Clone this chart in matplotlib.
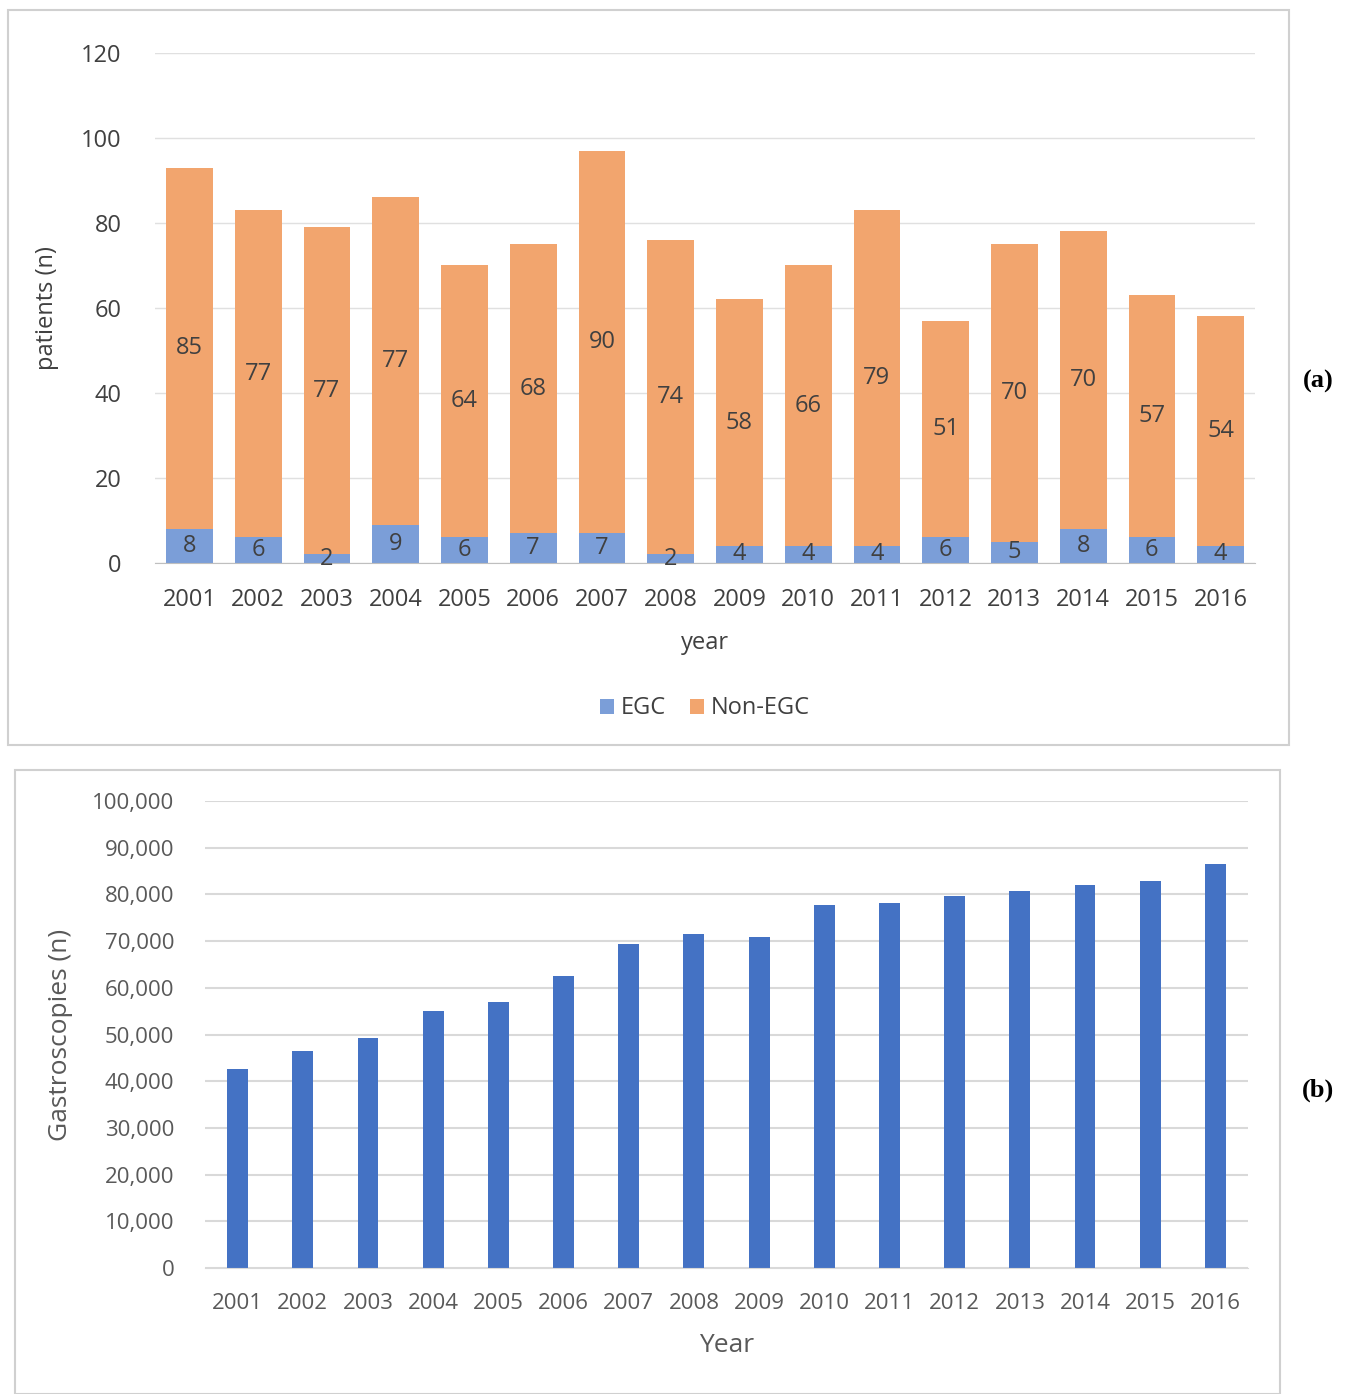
import matplotlib
matplotlib.use("Agg")
import matplotlib.pyplot as plt
from matplotlib.patches import Rectangle
from matplotlib.ticker import FuncFormatter

years = [str(y) for y in range(2001, 2017)]
egc = [8, 6, 2, 9, 6, 7, 7, 2, 4, 4, 4, 6, 5, 8, 6, 4]
non_egc = [85, 77, 77, 77, 64, 68, 90, 74, 58, 66, 79, 51, 70, 70, 57, 54]
gastro = [42600, 46500, 49300, 55000, 57000, 62500, 69400, 71500, 70900,
          77700, 78200, 79700, 80700, 82000, 82900, 86500]

W, H = 1351, 1394
fig = plt.figure(figsize=(W/100, H/100), dpi=100)
plt.rcParams['font.family'] = ['Open Sans', 'DejaVu Sans']
tc = '#404040'

fig.patches.append(Rectangle((8/W, 1-745/H), 1281/W, 735/H, transform=fig.transFigure,
                             fill=False, ec='#d0d0d0', lw=1.5))
fig.patches.append(Rectangle((15/W, 1-1394/H), 1265/W, 624/H, transform=fig.transFigure,
                             fill=False, ec='#d0d0d0', lw=1.5))

ax = fig.add_axes([155/W, 1-563/H, 1100/W, 510/H])
x = range(len(years))
ax.bar(x, egc, width=0.68, color='#7b9ed8', label='EGC')
ax.bar(x, non_egc, bottom=egc, width=0.68, color='#f2a56e', label='Non-EGC')
for i in x:
    ax.text(i, egc[i]/2, str(egc[i]), ha='center', va='center', fontsize=17, color=tc)
    ax.text(i, egc[i] + non_egc[i]/2, str(non_egc[i]), ha='center', va='center', fontsize=17, color=tc)
ax.set_ylim(0, 120)
ax.set_xlim(-0.5, 15.5)
ax.set_yticks(range(0, 121, 20))
ax.set_xticks(list(x))
ax.set_xticklabels(years)
ax.tick_params(length=0, labelsize=17, colors=tc, pad=18)
ax.tick_params(axis='y', pad=24)
ax.grid(axis='y', color='#e0e0e0', lw=1)
ax.set_axisbelow(True)
for s in ['top', 'right', 'left']:
    ax.spines[s].set_visible(False)
ax.spines['bottom'].set_color('#bfbfbf')
ax.set_ylabel('patients (n)', fontsize=17, color=tc, labelpad=16)
ax.set_xlabel('year', fontsize=17, color=tc, labelpad=14)
ax.legend(loc='upper center', bbox_to_anchor=(0.5, -0.22), ncol=2, frameon=False,
          fontsize=17, handlelength=0.6, handleheight=0.6, columnspacing=1.0,
          handletextpad=0.3, labelcolor=tc)
fig.text(1318/W, 1-381/H, '(a)', fontsize=19, fontweight='bold', family='Liberation Serif',
         ha='center', va='center')

ax2 = fig.add_axes([205/W, 1-1268/H, 1043/W, 467/H])
ax2.bar(x, gastro, width=0.32, color='#4472c4')
ax2.set_ylim(0, 100000)
ax2.set_xlim(-0.5, 15.5)
ax2.set_yticks(range(0, 100001, 10000))
ax2.yaxis.set_major_formatter(FuncFormatter(lambda v, p: f'{int(v):,}'))
ax2.set_xticks(list(x))
ax2.set_xticklabels(years)
ax2.tick_params(length=0, labelsize=16, colors='#595959', pad=18)
ax2.tick_params(axis='y', pad=22)
ax2.grid(axis='y', color='#d9d9d9', lw=1.5)
ax2.set_axisbelow(True)
for s in ['top', 'right', 'left']:
    ax2.spines[s].set_visible(False)
ax2.spines['bottom'].set_color('#d9d9d9')
ax2.set_ylabel('Gastroscopies (n)', fontsize=19, color='#595959', labelpad=14)
ax2.set_xlabel('Year', fontsize=19, color='#595959', labelpad=14)
fig.text(1318/W, 1-1090/H, '(b)', fontsize=19, fontweight='bold', family='Liberation Serif',
         ha='center', va='center')

fig.savefig('out.png', dpi=100)
